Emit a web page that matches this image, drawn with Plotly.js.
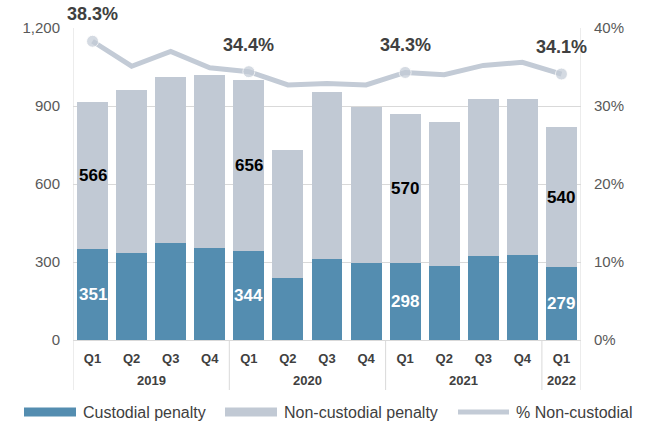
<!DOCTYPE html>
<html>
<head>
<meta charset="utf-8">
<script src="https://cdn.plot.ly/plotly-3.0.1.min.js"></script>
<style>html,body{margin:0;padding:0;background:#fff;}#chart{width:645px;height:424px;}</style>
</head>
<body>
<div id="chart"></div>
<script>
const years    = ["2019","2019","2019","2019","2020","2020","2020","2020","2021","2021","2021","2021","2022"];
const quarters = ["Q1","Q2","Q3","Q4","Q1","Q2","Q3","Q4","Q1","Q2","Q3","Q4","Q1"];
const custodial    = [351, 335, 373, 354, 344, 238, 312, 296, 298, 285, 323, 327, 279];
const nonCustodial = [566, 627, 639, 665, 656, 493, 642, 600, 570, 553, 604, 600, 540];
const pctNonCustodial = [38.3, 35.1, 37.0, 34.9, 34.4, 32.7, 32.9, 32.7, 34.3, 34.0, 35.2, 35.6, 34.1];
const labelIdx = [0, 4, 8, 12];

const FONT = "Liberation Sans, Arial, sans-serif";
const cBlue = "#548db0", cGray = "#c1c9d4", cLine = "#c3cbd6", cRule = "#d9d9d9";
const idx = quarters.map((q,i)=>i);

const traces = [
  {type:"bar", name:"Custodial penalty", x:idx, y:custodial,
   marker:{color:cBlue}, hoverinfo:"skip"},
  {type:"bar", name:"Non-custodial penalty", x:idx, y:nonCustodial,
   marker:{color:cGray}, hoverinfo:"skip"},
  {type:"scatter", mode:"lines+markers", name:"% Non-custodial", x:idx, y:pctNonCustodial,
   yaxis:"y2", line:{color:cLine, width:5},
   marker:{color:cLine, size:pctNonCustodial.map((v,i)=>labelIdx.includes(i)?12:0)}, hoverinfo:"skip"}
];

const W = 645, H = 424, ML = 73, MR = 64, MT = 28, MB = 84;
const pw = W-ML-MR, ph = H-MT-MB;
const px = v => (v-ML)/pw;
const py = v => (H-MB-v)/ph;

const annotations = [];
const shapes = [];
labelIdx.forEach(i=>{
  annotations.push({xref:"x", yref:"y", x:i, y:custodial[i]/2, text:String(custodial[i]), showarrow:false,
    font:{family:FONT, size:17, color:"#ffffff", weight:"bold"}});
  annotations.push({xref:"x", yref:"y", x:i, y:custodial[i]+nonCustodial[i]/2, text:String(nonCustodial[i]), showarrow:false,
    font:{family:FONT, size:17, color:"#000000", weight:"bold"}});
  annotations.push({xref:"x", yref:"y2", x:i, y:pctNonCustodial[i], yshift:27, text:pctNonCustodial[i].toFixed(1)+"%", showarrow:false,
    font:{family:FONT, size:18, color:"#404040", weight:"bold"}});
});

// year group labels and dividers
const groups = [];
years.forEach((y,i)=>{
  if(!groups.length || groups[groups.length-1].year!==y) groups.push({year:y, start:i, end:i});
  else groups[groups.length-1].end = i;
});
groups.forEach((g,k)=>{
  annotations.push({xref:"x", yref:"paper", x:(g.start+g.end)/2, y:py(380), yanchor:"middle", text:g.year, showarrow:false,
    font:{family:FONT, size:13, color:"#404040", weight:"bold"}});
  if(k>0) shapes.push({type:"line", xref:"x", yref:"paper", x0:g.start-0.5, x1:g.start-0.5, y0:0, y1:py(390),
    line:{color:cRule, width:1}});
});
[-0.5, years.length-0.5].forEach(xv=>{
  shapes.push({type:"line", xref:"x", yref:"paper", x0:xv, x1:xv, y0:1, y1:py(390), line:{color:cRule, width:1}});
});

// custom legend
const legendItems = [
  {label:"Custodial penalty", color:cBlue, x0:24, kind:"box"},
  {label:"Non-custodial penalty", color:cGray, x0:225, kind:"box"},
  {label:"% Non-custodial", color:cLine, x0:455, kind:"line"}
];
legendItems.forEach(it=>{
  if(it.kind==="box"){
    shapes.push({type:"rect", xref:"paper", yref:"paper", x0:px(it.x0), x1:px(it.x0+52), y0:py(416.5), y1:py(407.5),
      fillcolor:it.color, line:{width:0}});
  } else {
    shapes.push({type:"line", xref:"paper", yref:"paper", x0:px(it.x0+3), x1:px(it.x0+54), y0:py(412), y1:py(412),
      line:{color:it.color, width:5}});
  }
  annotations.push({xref:"paper", yref:"paper", x:px(it.x0+(it.kind==="box"?57:59)), y:py(412), xanchor:"left", yanchor:"middle",
    text:it.label, showarrow:false, font:{family:FONT, size:16, color:"#404040"}});
});

const layout = {
  width:W, height:H, margin:{l:ML, r:MR, t:MT, b:MB},
  paper_bgcolor:"#fff", plot_bgcolor:"#fff",
  barmode:"stack", bargap:0.21, showlegend:false,
  font:{family:FONT},
  xaxis:{range:[-0.5, years.length-0.5], tickvals:idx, ticktext:quarters, automargin:false,
    tickfont:{family:FONT, size:13, color:"#404040", weight:"bold"}, ticklabelstandoff:6,
    showline:true, linecolor:cRule, linewidth:1, ticks:"", showgrid:false, zeroline:false, fixedrange:true},
  yaxis:{range:[0,1200], dtick:300, tickformat:",d", showgrid:true, gridcolor:cRule, gridwidth:1, automargin:false,
    zeroline:false, showline:false, ticks:"", ticklabelstandoff:12,
    tickfont:{family:FONT, size:15, color:"#595959"}},
  yaxis2:{range:[0,40], dtick:10, ticksuffix:"%", overlaying:"y", side:"right", showgrid:false, automargin:false,
    zeroline:false, showline:false, ticks:"", ticklabelstandoff:12,
    tickfont:{family:FONT, size:15, color:"#595959"}},
  annotations:annotations, shapes:shapes
};

Plotly.newPlot("chart", traces, layout, {displayModeBar:false, staticPlot:true});
</script>
</body>
</html>
